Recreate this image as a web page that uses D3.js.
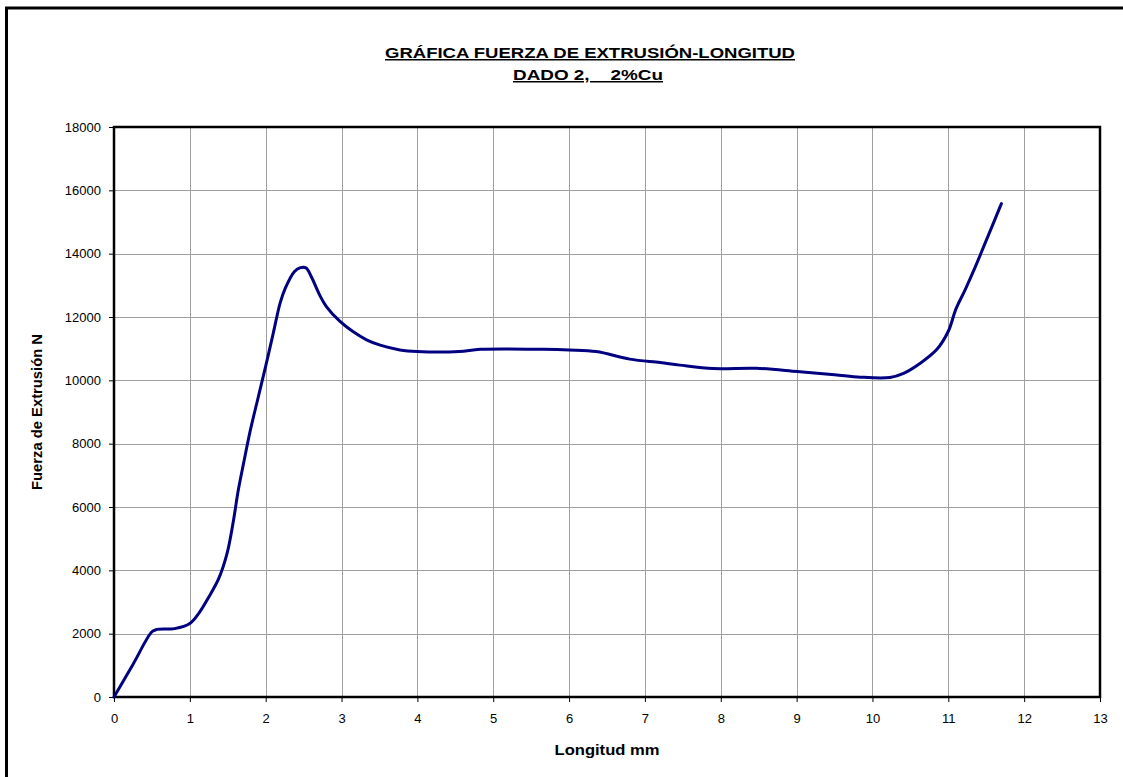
<!DOCTYPE html>
<html>
<head>
<meta charset="utf-8">
<script src="https://cdn.jsdelivr.net/npm/d3@7"></script>
<style>
  html, body { margin: 0; padding: 0; background: #fff; }
  svg { display: block; font-family: Arial, "Liberation Sans", sans-serif; }
</style>
</head>
<body>
<svg id="chart" width="1123" height="777"></svg>
<script>
// Extrusion force vs. ram travel, die 2, 2% Cu
const longitud = [0, 0.25, 0.5, 0.56, 0.8, 1.0, 1.12, 1.25, 1.38, 1.49, 1.57, 1.64, 1.71, 1.80, 1.90, 2.0, 2.1, 2.19, 2.26, 2.38, 2.45, 2.53, 2.6, 2.71, 2.8, 2.98, 3.15, 3.33, 3.51, 3.77, 4.0, 4.55, 4.83, 5.66, 6.0, 6.36, 6.8, 7.2, 7.46, 7.9, 8.47, 9.01, 9.5, 9.84, 10.23, 10.41, 10.63, 10.85, 11.0, 11.1, 11.22, 11.35, 11.48, 11.7];
const fuerza = [0, 1030, 2060, 2130, 2160, 2320, 2650, 3160, 3740, 4530, 5500, 6550, 7400, 8450, 9450, 10450, 11490, 12440, 12920, 13440, 13550, 13550, 13280, 12700, 12330, 11860, 11540, 11280, 11110, 10960, 10910, 10910, 10980, 10980, 10960, 10910, 10670, 10560, 10480, 10370, 10380, 10280, 10180, 10100, 10090, 10220, 10540, 10980, 11550, 12250, 12850, 13550, 14300, 15580];
const xTicks = [0, 1, 2, 3, 4, 5, 6, 7, 8, 9, 10, 11, 12, 13];
const yTicks = [0, 2000, 4000, 6000, 8000, 10000, 12000, 14000, 16000, 18000];
const titulo = ["GRÁFICA FUERZA DE EXTRUSIÓN-LONGITUD", "DADO 2,    2%Cu"];
const etiquetaX = "Longitud mm";
const etiquetaY = "Fuerza de Extrusión N";

const svg = d3.select("#chart");
const W = 1123, H = 777;
const plot = { left: 114, right: 1100, top: 127, bottom: 697 };

const x = d3.scaleLinear().domain([0, 13]).range([plot.left, plot.right]);
const y = d3.scaleLinear().domain([0, 18000]).range([plot.bottom, plot.top]);

// outer chart-area frame (runs past the right and bottom edges)
svg.append("rect")
  .attr("x", 6.5).attr("y", 8)
  .attr("width", W + 20).attr("height", H + 20)
  .attr("fill", "none").attr("stroke", "#000").attr("stroke-width", 3);

// gridlines
const grid = svg.append("g").attr("stroke", "#a0a0a0").attr("stroke-width", 1);
grid.selectAll("line.v").data(xTicks.slice(1, -1)).join("line")
  .attr("x1", d => Math.round(x(d)) + 0.5).attr("x2", d => Math.round(x(d)) + 0.5)
  .attr("y1", plot.top).attr("y2", plot.bottom);
grid.selectAll("line.h").data(yTicks.slice(1, -1)).join("line")
  .attr("y1", d => Math.round(y(d)) + 0.5).attr("y2", d => Math.round(y(d)) + 0.5)
  .attr("x1", plot.left).attr("x2", plot.right);

// axes
const xAxis = d3.axisBottom(x).tickValues(xTicks).tickSize(5).tickPadding(12).tickFormat(d3.format("d"));
const yAxis = d3.axisLeft(y).tickValues(yTicks).tickSize(5).tickPadding(8).tickFormat(d3.format("d"));

const gx = svg.append("g").attr("transform", `translate(0,${plot.bottom})`).call(xAxis);
const gy = svg.append("g").attr("transform", `translate(${plot.left},0)`).call(yAxis);
[gx, gy].forEach(g => {
  g.select(".domain").remove();
  g.selectAll(".tick line").attr("stroke", "#000").attr("stroke-width", 1);
  g.selectAll(".tick text").attr("fill", "#000").attr("font-size", 13)
    .attr("font-family", "Arial, 'Liberation Sans', sans-serif");
});

// plot frame
svg.append("rect")
  .attr("x", plot.left).attr("y", plot.top)
  .attr("width", plot.right - plot.left).attr("height", plot.bottom - plot.top)
  .attr("fill", "none").attr("stroke", "#000").attr("stroke-width", 2.5);

// curve
const pts = longitud.map((v, i) => [v, fuerza[i]]);
const line = d3.line().x(d => x(d[0])).y(d => y(d[1])).curve(d3.curveCatmullRom.alpha(0.5));
svg.append("path").datum(pts)
  .attr("d", line)
  .attr("fill", "none").attr("stroke", "#000080").attr("stroke-width", 3)
  .attr("stroke-linejoin", "round").attr("stroke-linecap", "round");

// title
const tg = svg.append("g").attr("font-weight", "bold").attr("font-size", 15).attr("text-anchor", "middle");
tg.append("text").attr("x", 590).attr("y", 58).attr("text-decoration", "underline")
  .attr("textLength", 410).attr("lengthAdjust", "spacingAndGlyphs").text(titulo[0]);
tg.append("text").attr("x", 588).attr("y", 80).attr("text-decoration", "underline")
  .attr("textLength", 150).attr("lengthAdjust", "spacingAndGlyphs")
  .attr("xml:space", "preserve").style("white-space", "pre").text(titulo[1]);

// axis titles
svg.append("text").attr("x", (plot.left + plot.right) / 2).attr("y", 755)
  .attr("text-anchor", "middle").attr("font-weight", "bold").attr("font-size", 14)
  .attr("textLength", 105).attr("lengthAdjust", "spacingAndGlyphs")
  .text(etiquetaX);
svg.append("text")
  .attr("transform", `translate(42,${(plot.top + plot.bottom) / 2}) rotate(-90)`)
  .attr("text-anchor", "middle").attr("font-weight", "bold").attr("font-size", 14)
  .attr("textLength", 156).attr("lengthAdjust", "spacingAndGlyphs")
  .text(etiquetaY);
</script>
</body>
</html>
